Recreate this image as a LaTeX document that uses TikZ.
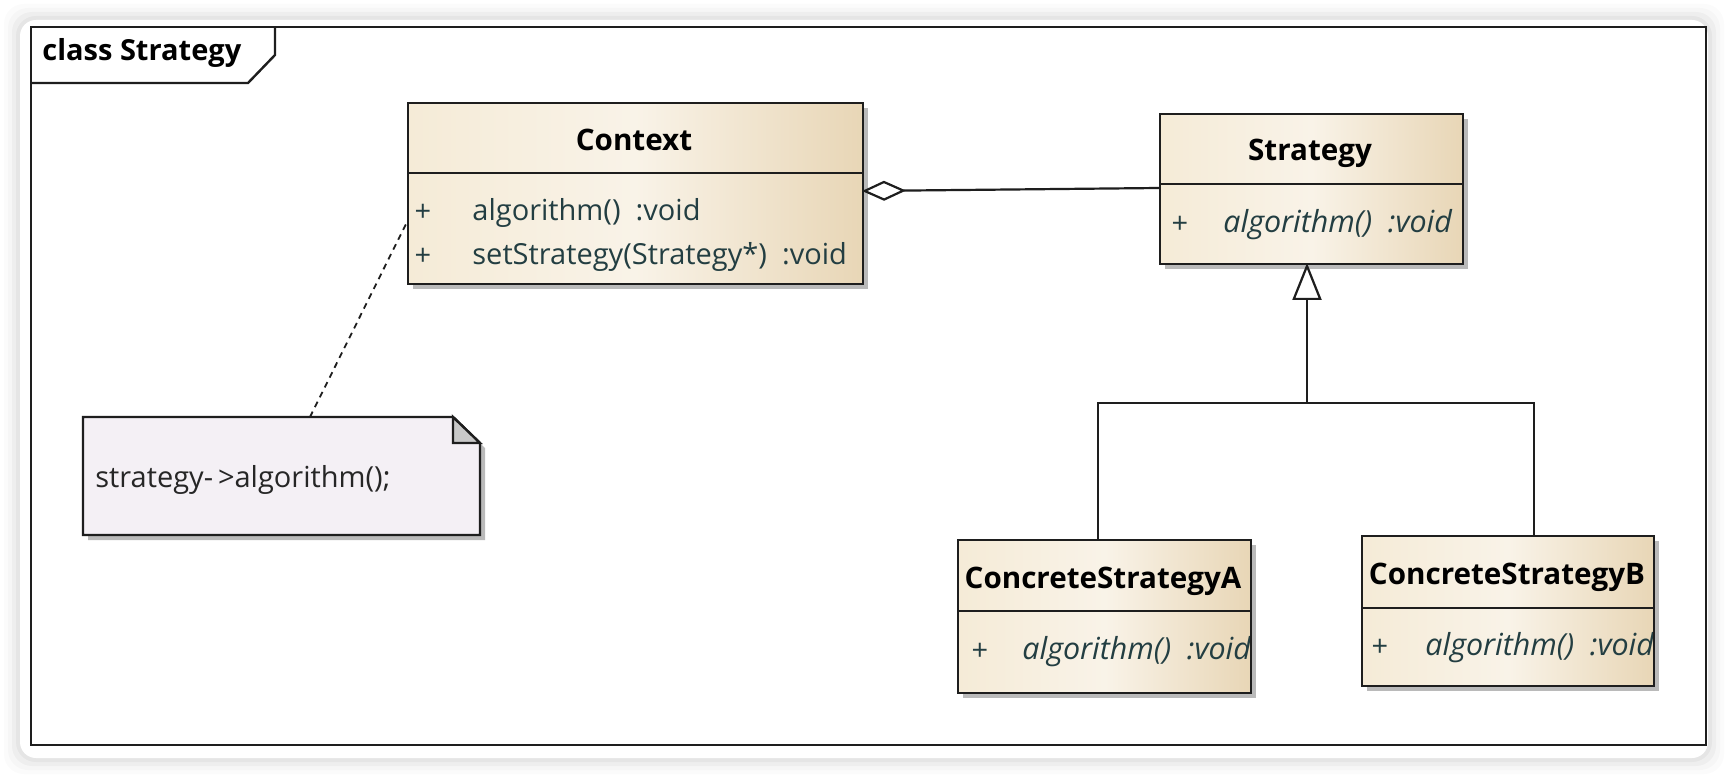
\documentclass[tikz,border=0pt]{standalone}
\usepackage{fontspec}
\setmainfont{Open Sans}
\usetikzlibrary{arrows.meta,shadows,calc}
\definecolor{attrc}{RGB}{35,62,66}
\definecolor{boxL}{RGB}{245,235,215}
\definecolor{boxM}{RGB}{249,243,232}
\definecolor{boxR}{RGB}{232,214,182}
\definecolor{notef}{RGB}{244,240,245}
\definecolor{foldf}{RGB}{200,200,200}
\definecolor{edge}{RGB}{30,30,30}
\begin{document}
\begin{tikzpicture}[x=0.5pt,y=-0.5pt,
  classbox/.style={draw=edge, line width=1.2pt, left color=boxL, right color=boxR, middle color=boxM,
    anchor=north west, inner sep=0pt,
    drop shadow={shadow xshift=2.5pt, shadow yshift=-2.5pt, fill=black!45, opacity=0.6}},
  ctitle/.style={font=\bfseries\fontsize{14.8}{17}\selectfont, text=black, inner sep=0pt},
  plus/.style={font=\fontsize{14.5}{17}\selectfont, text=attrc, inner sep=0pt},
  attr/.style={font=\fontsize{14.5}{17}\selectfont, text=attrc, inner sep=0pt, anchor=west},
  iattr/.style={attr, font=\itshape\fontsize{15.2}{17}\selectfont},
  divider/.style={draw=edge, line width=1.2pt},
  conn/.style={draw=edge, line width=1.1pt},
]
\useasboundingbox (0,0) rectangle (1728,780);
% card glow
\foreach \i/\o in {16/0.015,12/0.02,8/0.03,4/0.04}
  \fill[black, opacity=\o, rounded corners=10pt] (20-\i,20-\i) rectangle (1708+\i,758+\i);
\fill[white, rounded corners=8pt] (20,20) rectangle (1708,758);
% frame
\draw[edge, line width=1.2pt] (31,27) rectangle (1706,745);
\draw[edge, line width=1.2pt] (31,83) -- (248,83) -- (275,55) -- (275,27);
\node[ctitle, anchor=west, font=\bfseries\fontsize{14.5}{17}\selectfont] (ttl) at (42,53) {class Strategy};

% Context
\node[classbox, minimum width=227.5pt, minimum height=90.5pt] (ctx) at (407,102) {};
\draw[divider] (407,173) -- (862,173);
\node[ctitle] (ctxT) at (634,140) {Context};
\node[plus] (ctxP1) at (423,213) {+};
\node[attr] (ctxA1) at (472,213) {algorithm()\ \ :void};
\node[plus] (ctxP2) at (423,257) {+};
\node[attr] (ctxA2) at (472,257) {setStrategy(Strategy*)\ \ :void};

% Strategy
\node[classbox, minimum width=151.5pt, minimum height=75pt] (strat) at (1159,113) {};
\draw[divider] (1159,184) -- (1462,184);
\node[ctitle] (stratT) at (1310,153) {Strategy};
\node[plus] (stratP) at (1180,225) {+};
\node[iattr] (stratA) at (1223,225) {algorithm()\ \ :void};

% ConcreteStrategyA
\node[classbox, minimum width=146.5pt, minimum height=76.5pt] (csA) at (957,539) {};
\draw[divider] (957,611) -- (1250,611);
\node[ctitle] (csAT) at (1103,581) {ConcreteStrategyA};
\node[plus] (csAP) at (980,652) {+};
\begin{scope}
\clip (957,611) rectangle (1249,692);
\node[iattr] (csAA) at (1022,652) {algorithm()\ \ :void};
\end{scope}

% ConcreteStrategyB
\node[classbox, minimum width=146pt, minimum height=75pt] (csB) at (1361,535) {};
\draw[divider] (1361,608) -- (1653,608);
\node[ctitle] (csBT) at (1507,577) {ConcreteStrategyB};
\node[plus] (csBP) at (1380,648) {+};
\begin{scope}
\clip (1361,608) rectangle (1652,685);
\node[iattr] (csBA) at (1425,648) {algorithm()\ \ :void};
\end{scope}

% Note
\fill[black!45, opacity=0.6] (88,422) -- (458,422) -- (485,448) -- (485,540) -- (88,540) -- cycle;
\node[anchor=north west, minimum width=198.5pt, minimum height=59pt, inner sep=0pt] (note) at (83,417) {};
\filldraw[fill=notef, draw=edge, line width=1.2pt] (83,417) -- (453,417) -- (480,443) -- (480,535) -- (83,535) -- cycle;
\filldraw[fill=foldf, draw=edge, line width=1.2pt] (453,417) -- (453,443) -- (480,443) -- cycle;
\node[font=\fontsize{14.5}{17}\selectfont, text=black!85, inner sep=0pt, anchor=west] (noteT) at (95,480) {strategy-\,>algorithm();};

% connectors
\coordinate (nt) at (310,417);
\coordinate (ca) at (407,222);
\draw[edge, line width=0.9pt, dash pattern=on 3pt off 2.5pt] (nt) -- (ca);

\coordinate (aggS) at (862,191);
\coordinate (aggE) at (1159,188);
\draw[conn, {Diamond[open, fill=white, length=22pt, width=10pt, line width=1.1pt]}-] (aggS) -- (aggE);

\coordinate (jn) at (1307,403);
\coordinate (csAtop) at (1098,539);
\coordinate (csBtop) at (1534,535);
\coordinate (stratB) at (1307,263);
\draw[conn] (csAtop) |- (jn) -| (csBtop);
\draw[conn, -{Triangle[open, fill=white, length=18.5pt, width=14.5pt, line width=1.1pt]}] (jn) -- (stratB);
\end{tikzpicture}
\end{document}
